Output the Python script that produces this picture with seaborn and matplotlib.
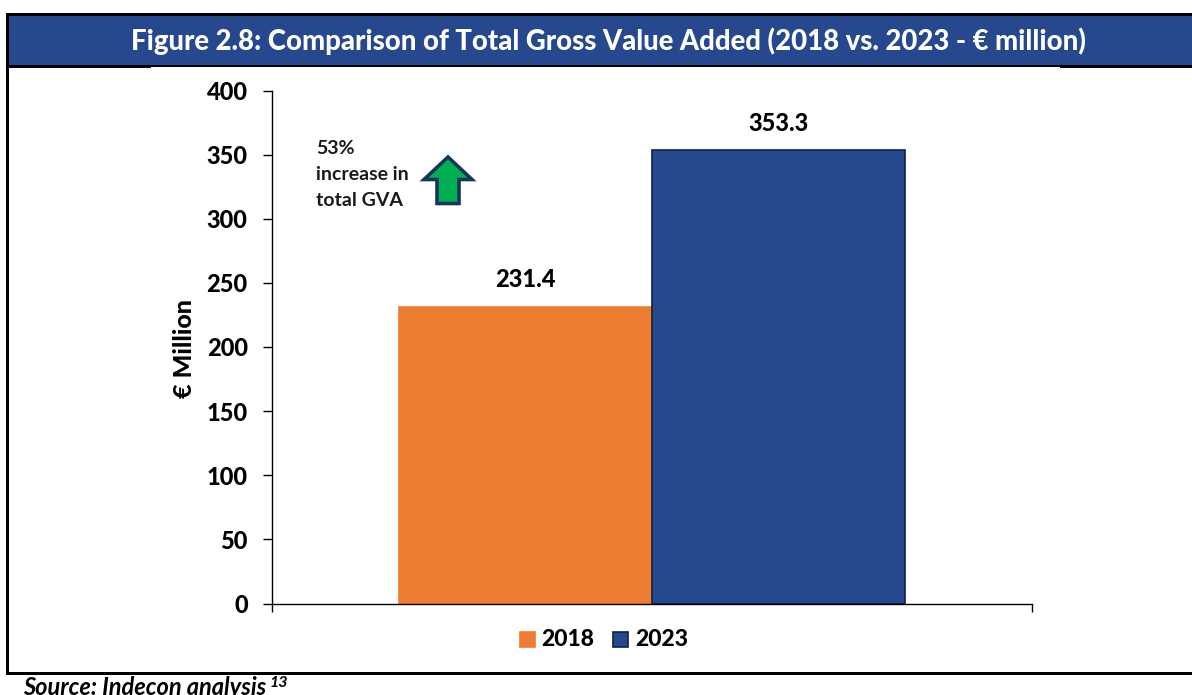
import matplotlib
matplotlib.use("Agg")
import matplotlib.pyplot as plt
from matplotlib.patches import Rectangle, Polygon
import pandas as pd
import seaborn as sns

years = ["2018", "2023"]
gva_values = [231.4, 353.3]
bar_colours = ["#ED7D31", "#25488E"]
y_ticks = [0, 50, 100, 150, 200, 250, 300, 350, 400]

title_text = "Figure 2.8: Comparison of Total Gross Value Added (2018 vs. 2023 - € million)"
source_text = "Source: Indecon analysis"
note_lines = ["53%", "increase in", "total GVA"]

W, H = 1192, 695
sns.set_theme(style="white")
plt.rcParams["font.family"] = ["Lato", "DejaVu Sans"]
HEAVY = 900


def fx(x):
    return x / W


def fy(y):
    return 1 - y / H


def band(x0, y0, x1, y1, colour):
    fig.add_artist(Rectangle((fx(x0), fy(y1)), (x1 - x0) / W, (y1 - y0) / H,
                             transform=fig.transFigure, facecolor=colour,
                             edgecolor="none", zorder=1))


fig = plt.figure(figsize=(W / 100, H / 100), dpi=100, facecolor="white")
ax = fig.add_axes([fx(272), fy(603.5), (1032 - 272) / W, (603.5 - 90.5) / H])

# Frame and title band
band(9, 15, W, 65, "#25488E")
band(6, 13, W, 15.5, "black")
band(6, 13, 9, 675, "black")
band(6, 65, W, 66.5, "black")
band(6, 66, 151, 68, "black")
band(1060, 66, W, 68, "black")
band(6, 672, W, 675, "black")

fig.text(fx(608.5), fy(41), title_text, color="white", fontsize=19.8, fontweight=HEAVY,
         ha="center", va="center", zorder=3)

# Bars
table = pd.DataFrame({"period": ["total"] * len(years), "year": years, "gva": gva_values})
sns.barplot(data=table, x="period", y="gva", hue="year", hue_order=years,
            palette=bar_colours, saturation=1, width=0.667, dodge=True, ax=ax, legend=False)

edge_colours = ["#ED7D31", "#10203F"]
for container, colour, value in zip(ax.containers, edge_colours, gva_values):
    for bar in container:
        bar.set_edgecolor(colour)
        bar.set_linewidth(1.2)
    ax.bar_label(container, labels=[f"{value:.1f}"], padding=11, fontsize=17,
                 fontweight=HEAVY, color="black")

ax.set_xlim(-0.5, 0.5)
ax.set_ylim(0, 400)
ax.set_yticks(y_ticks)
ax.set_xticks([-0.5, 0.5])
ax.set_xticklabels(["", ""])
ax.set_xlabel("")
ax.set_ylabel("")
ax.tick_params(axis="y", direction="out", length=6.5, width=1, color="black", pad=11,
               left=True, labelsize=17, labelcolor="black")
ax.tick_params(axis="x", direction="out", length=6, width=1, color="black", bottom=True)
for label in ax.get_yticklabels():
    label.set_fontweight(HEAVY)
for side in ("top", "right"):
    ax.spines[side].set_visible(False)
for side in ("left", "bottom"):
    ax.spines[side].set_color("black")
    ax.spines[side].set_linewidth(1)
ax.patch.set_alpha(0)

fig.text(fx(184), fy(349), "€ Million", rotation=90, fontsize=18, fontweight=HEAVY,
         color="black", ha="center", va="center")

# Growth note with its arrow
for line, y in zip(note_lines, [148, 175, 201]):
    fig.text(fx(316), fy(y), line, fontsize=14, fontweight="bold", color="#1a1a1a",
             ha="left", va="center")
arrow_px = [(448, 157), (472, 179.5), (459, 179.5), (459, 203.5), (437, 203.5), (437, 179.5), (424, 179.5)]
fig.add_artist(Polygon([(fx(x), fy(y)) for x, y in arrow_px], closed=True,
                       transform=fig.transFigure, facecolor="#00B050",
                       edgecolor="#17365D", linewidth=2.6, joinstyle="miter", zorder=3))

# Legend
for left, colour, edge, year, text_x in zip([520, 613], bar_colours, edge_colours, years, [541, 635]):
    fig.add_artist(Rectangle((fx(left), fy(647)), 15 / W, 15 / H, transform=fig.transFigure,
                             facecolor=colour, edgecolor=edge, linewidth=1.2, zorder=3))
    fig.text(fx(text_x), fy(639), year, fontsize=16.5, fontweight=HEAVY, color="black",
             ha="left", va="center")

# Source line, cut by the lower edge of the page
fig.text(fx(23), fy(695), source_text, fontsize=17, fontstyle="italic", fontweight="bold",
         color="black", ha="left", va="baseline", zorder=3)
fig.text(fx(269), fy(687), "13", fontsize=11.5, fontstyle="italic", fontweight="bold",
         color="black", ha="left", va="baseline", zorder=3)

fig.savefig("out.png", dpi=100)
